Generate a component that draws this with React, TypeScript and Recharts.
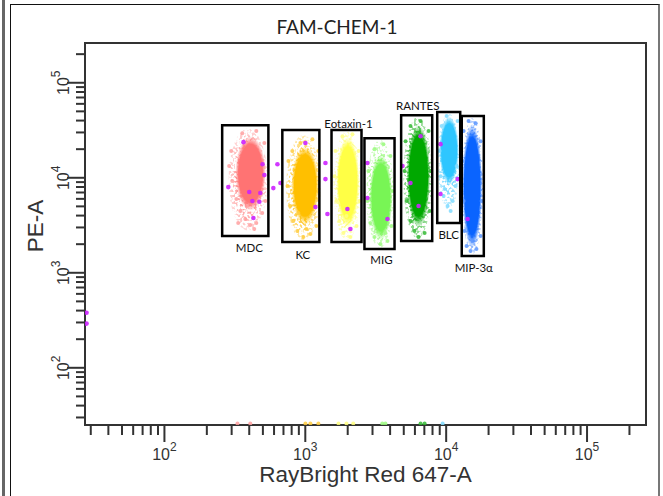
import { ScatterChart, Scatter, XAxis, YAxis, ReferenceArea } from "recharts";

// flow plot: PE-A vs RayBright Red 647-A, log-log
const X_MIN = 27.3;
const Y_MIN = 25;
const AXIS_MAX = 262144;

const decadeTicks = [100, 1000, 10000, 100000];
const decadeExponents = ["2", "3", "4", "5"];
const minorTicks = [
  30, 40, 50, 60, 70, 80, 90,
  200, 300, 400, 500, 600, 700, 800, 900,
  2000, 3000, 4000, 5000, 6000, 7000, 8000, 9000,
  20000, 30000, 40000, 50000, 60000, 70000, 80000, 90000,
  200000,
];
const allTicks = [...minorTicks, ...decadeTicks].sort((a, b) => a - b);

const populations = ["MDC", "KC", "Eotaxin-1", "MIG", "RANTES", "BLC", "MIP-3α"];

// gates: [x1, x2, y1, y2]
const gates = [
  [257, 547, 2440, 35800],
  [687, 1259, 2110, 31800],
  [1535, 2506, 2110, 31800],
  [2630, 4300, 1780, 26100],
  [4790, 7960, 2160, 45600],
  [8640, 12580, 3340, 49100],
  [12900, 18500, 1500, 44600],
];

// extent of the diffuse cloud and of the dense core of each bead population
const clouds = [
  [285, 540, 2800, 33000],
  [730, 1285, 2200, 28000],
  [1580, 2470, 2200, 31000],
  [2710, 4250, 1830, 25000],
  [4970, 7900, 2300, 43500],
  [8700, 12500, 4600, 47500],
  [12900, 18300, 1580, 42500],
];
const cores = [
  [318, 525, 4500, 27500],
  [795, 1250, 3200, 21500],
  [1660, 2420, 3000, 27000],
  [2850, 4150, 2200, 17500],
  [5250, 7700, 3000, 36000],
  [8950, 12300, 8500, 44500],
  [13000, 18000, 1800, 37000],
];

const fringeMDC = [
  { x: 298, y: 19100 }, { x: 288, y: 13300 }, { x: 303, y: 9230 }, { x: 324, y: 5970 },
  { x: 346, y: 4470 }, { x: 375, y: 3680 }, { x: 407, y: 3180 }, { x: 449, y: 3340 },
  { x: 495, y: 4260 }, { x: 520, y: 5690 }, { x: 357, y: 29500 }, { x: 449, y: 31000 },
  { x: 512, y: 23200 }, { x: 334, y: 3340 }, { x: 434, y: 2890 }, { x: 387, y: 5040 },
  { x: 330, y: 26 }, { x: 407, y: 26 },
];
const fringeKC = [
  { x: 759, y: 15000 }, { x: 747, y: 8180 }, { x: 783, y: 5040 }, { x: 822, y: 3510 },
  { x: 878, y: 2750 }, { x: 969, y: 2380 }, { x: 1087, y: 2560 }, { x: 1199, y: 3100 },
  { x: 1238, y: 19100 }, { x: 1123, y: 25500 }, { x: 923, y: 23200 }, { x: 809, y: 19100 },
  { x: 1018, y: 2890 }, { x: 893, y: 4260 },
  { x: 1002, y: 26 }, { x: 1087, y: 26 }, { x: 1238, y: 26 },
];
const fringeEotaxin = [
  { x: 1637, y: 19100 }, { x: 1610, y: 10400 }, { x: 1664, y: 5690 }, { x: 1748, y: 3510 },
  { x: 1866, y: 2620 }, { x: 2090, y: 2380 }, { x: 2310, y: 3100 }, { x: 2423, y: 5690 },
  { x: 2385, y: 19100 }, { x: 2160, y: 28800 }, { x: 1836, y: 27400 }, { x: 1960, y: 3960 },
  { x: 1720, y: 26 }, { x: 1960, y: 26 }, { x: 2190, y: 26 },
];
const fringeMIG = [
  { x: 2806, y: 11800 }, { x: 2760, y: 5690 }, { x: 2900, y: 3340 }, { x: 3095, y: 2380 },
  { x: 3415, y: 2010 }, { x: 3830, y: 2160 }, { x: 4090, y: 3100 }, { x: 4155, y: 7240 },
  { x: 4020, y: 16900 }, { x: 3586, y: 22600 }, { x: 3095, y: 20000 }, { x: 3705, y: 2620 },
  { x: 3520, y: 26 }, { x: 3705, y: 26 },
];
const fringeRANTES = [
  { x: 5150, y: 24300 }, { x: 5070, y: 11800 }, { x: 5230, y: 5690 }, { x: 5580, y: 3510 },
  { x: 5960, y: 2750 }, { x: 6370, y: 2380 }, { x: 7030, y: 2620 }, { x: 7630, y: 4470 },
  { x: 7750, y: 11800 }, { x: 7500, y: 31000 }, { x: 6580, y: 39500 }, { x: 5580, y: 35000 },
  { x: 6580, y: 26 }, { x: 7030, y: 26 },
];
const fringeBLC = [
  { x: 8990, y: 19100 }, { x: 9140, y: 10400 }, { x: 9590, y: 6420 }, { x: 10230, y: 5040 },
  { x: 11110, y: 5690 }, { x: 11670, y: 8180 }, { x: 10760, y: 4470 }, { x: 9290, y: 35000 },
  { x: 12050, y: 39500 }, { x: 10070, y: 44600 }, { x: 11860, y: 13300 }, { x: 9750, y: 7600 },
  { x: 9440, y: 26 },
];
const fringeMIP = [
  { x: 13300, y: 31000 }, { x: 13100, y: 15000 }, { x: 13300, y: 5690 }, { x: 13500, y: 2750 },
  { x: 13960, y: 1910 }, { x: 14900, y: 1700 }, { x: 16400, y: 1780 }, { x: 17550, y: 2440 },
  { x: 17850, y: 5690 }, { x: 17550, y: 24300 }, { x: 16200, y: 37600 }, { x: 14420, y: 39500 },
  { x: 15400, y: 2160 },
];
const fringes = [fringeMDC, fringeKC, fringeEotaxin, fringeMIG, fringeRANTES, fringeBLC, fringeMIP];

// doublets / ungated events
const magentaEvents = [
  { x: 364, y: 23700 }, { x: 497, y: 13900 }, { x: 512, y: 10700 }, { x: 284, y: 7980 },
  { x: 400, y: 7080 }, { x: 479, y: 6910 }, { x: 421, y: 5690 }, { x: 472, y: 5600 },
  { x: 428, y: 3770 }, { x: 634, y: 13900 }, { x: 666, y: 8800 }, { x: 593, y: 7790 },
  { x: 1002, y: 23200 }, { x: 1180, y: 4920 }, { x: 1390, y: 14300 }, { x: 1390, y: 9690 },
  { x: 1436, y: 4150 }, { x: 1990, y: 4690 }, { x: 2090, y: 2890 }, { x: 2760, y: 14300 },
  { x: 2760, y: 6120 }, { x: 3830, y: 3680 }, { x: 4900, y: 13300 }, { x: 6580, y: 27400 },
  { x: 5580, y: 8800 }, { x: 6370, y: 5040 }, { x: 9120, y: 22600 }, { x: 9120, y: 6750 },
  { x: 12050, y: 9690 }, { x: 14200, y: 3680 },
  { x: 28, y: 380 }, { x: 28, y: 292 },
];

// styles
const coreColors = ["#ff7373", "#ffbf00", "#ffff45", "#78f555", "#00a800", "#2ec6ff", "#0a64ff"];
const lightColors = ["#ffa0a0", "#ffcc40", "#ffff80", "#9cfa80", "#33b833", "#80dbff", "#5c96ff"];
const labelBelow = [true, true, false, true, false, true, true];
const labelBaseline = [16, 17, -2, 15, -5, 16, 16];
const labelShift = [4, 2, 2, 2, 1, 0, 1];

const AXIS = "#333";
const TICK_FONT = "'Liberation Sans', Arial, sans-serif";
const LABEL_FONT = "Lato, 'Open Sans', sans-serif";

function XTick(props: any) {
  const { x, y, payload } = props;
  const i = decadeTicks.indexOf(payload.value);
  const major = i >= 0;
  return (
    <g>
      <line x1={x} x2={x} y1={y} y2={y + (major ? 17 : 10)} stroke={AXIS} strokeWidth={2} />
      {major && (
        <text x={x} y={y + 35} textAnchor="middle" fontFamily={TICK_FONT} fontSize={16} fill={AXIS}>
          10
          <tspan dy={-9} fontSize={12}>{decadeExponents[i]}</tspan>
        </text>
      )}
    </g>
  );
}

function YTick(props: any) {
  const { x, y, payload } = props;
  const i = decadeTicks.indexOf(payload.value);
  const major = i >= 0;
  const tx = x - 16;
  return (
    <g>
      <line x1={x} x2={x - (major ? 18 : 9)} y1={y} y2={y} stroke={AXIS} strokeWidth={2} />
      {major && (
        <text
          x={tx}
          y={y}
          transform={`rotate(-90 ${tx} ${y})`}
          textAnchor="middle"
          fontFamily={TICK_FONT}
          fontSize={16}
          fill={AXIS}
        >
          10
          <tspan dy={-9} fontSize={12}>{decadeExponents[i]}</tspan>
        </text>
      )}
    </g>
  );
}

// dense bead cloud: a gradient ellipse; the diffuse halo is speckled so it reads as single events
function Blob(props: any) {
  const { x, y, width, height, color, id, soft, seed } = props;
  const gid = `blob-${id}`;
  const fid = `speck-${id}`;
  return (
    <g>
      <defs>
        <radialGradient id={gid}>
          <stop offset="0%" stopColor={color} stopOpacity={1} />
          <stop offset={soft ? "60%" : "78%"} stopColor={color} stopOpacity={1} />
          <stop offset="100%" stopColor={color} stopOpacity={soft ? 0.4 : 0} />
        </radialGradient>
        {soft && (
          <filter id={fid} x="-5%" y="-5%" width="110%" height="110%">
            <feTurbulence type="fractalNoise" baseFrequency="0.42" numOctaves={1} seed={seed} result="noise" />
            <feColorMatrix
              in="noise"
              type="matrix"
              values="0 0 0 0 0  0 0 0 0 0  0 0 0 0 0  8 0 0 0 -3.9"
              result="mask"
            />
            <feComposite in="SourceGraphic" in2="mask" operator="in" />
          </filter>
        )}
      </defs>
      <ellipse
        cx={x + width / 2}
        cy={y + height / 2}
        rx={width / 2}
        ry={height / 2}
        fill={`url(#${gid})`}
        filter={soft ? `url(#${fid})` : undefined}
      />
    </g>
  );
}

const gateLabel = (i: number) => (p: any) => {
  const { x, y, width, height } = p.viewBox;
  const ty = labelBelow[i] ? y + height + labelBaseline[i] : y + labelBaseline[i];
  return (
    <text x={x + width / 2 + labelShift[i]} y={ty} textAnchor="middle" fontFamily={LABEL_FONT} fontSize={11.5} fill="#111">
      {populations[i]}
    </text>
  );
};

const dot = (color: string, r: number, opacity: number) => (p: any) =>
  <circle cx={p.cx} cy={p.cy} r={r} fill={color} fillOpacity={opacity} />;

export default function App() {
  return (
    <div style={{ position: "absolute", left: 0, top: 0, width: 663, height: 496, overflow: "hidden", background: "#fff" }}>
      <div style={{ position: "absolute", left: 2, top: 0, width: 2.5, height: 496, background: "#666" }} />
      <div
        style={{
          position: "absolute", left: 10, top: 4, width: 650, height: 520, boxSizing: "border-box",
          borderTop: "1.5px solid #111", borderLeft: "1.5px solid #111", borderRight: "2px solid #777",
        }}
      />
      <svg width={663} height={60} style={{ position: "absolute", left: 0, top: 0 }}>
        <text x={337} y={34} textAnchor="middle" fontFamily={LABEL_FONT} fontSize={19} fill="#222">FAM-CHEM-1</text>
      </svg>
      <ScatterChart
        width={663}
        height={496}
        margin={{ top: 43, right: 17, bottom: 0, left: 0 }}
        style={{ position: "absolute", left: 0, top: 0 }}
      >
        <XAxis
          type="number"
          dataKey="x"
          scale="log"
          domain={[X_MIN, AXIS_MAX]}
          allowDataOverflow
          ticks={allTicks}
          interval={0}
          tick={<XTick />}
          tickLine={false}
          tickSize={0}
          tickMargin={0}
          axisLine={{ stroke: AXIS, strokeWidth: 2 }}
          height={71}
          label={{
            content: (p: any) => (
              <text x={p.viewBox.x + p.viewBox.width / 2} y={482} textAnchor="middle" fontFamily={TICK_FONT} fontSize={22.5} fill={AXIS}>
                RayBright Red 647-A
              </text>
            ),
          }}
        />
        <YAxis
          type="number"
          dataKey="y"
          scale="log"
          domain={[Y_MIN, AXIS_MAX]}
          allowDataOverflow
          ticks={allTicks}
          interval={0}
          tick={<YTick />}
          tickLine={false}
          tickSize={0}
          tickMargin={0}
          axisLine={{ stroke: AXIS, strokeWidth: 2 }}
          width={85}
          label={{
            content: () => (
              <text x={43} y={226} transform="rotate(-90 43 226)" textAnchor="middle" fontFamily={TICK_FONT} fontSize={22.5} fill={AXIS}>
                PE-A
              </text>
            ),
          }}
        />
        <ReferenceArea x1={X_MIN} x2={AXIS_MAX} y1={Y_MIN} y2={AXIS_MAX} fill="none" stroke={AXIS} strokeWidth={2} />
        {clouds.map((c, i) => (
          <ReferenceArea
            key={`cloud-${i}`}
            x1={c[0]} x2={c[1]} y1={c[2]} y2={c[3]}
            shape={(p: any) => <Blob {...p} color={lightColors[i]} id={`c${i}`} seed={i * 5 + 3} soft />}
          />
        ))}
        {cores.map((c, i) => (
          <ReferenceArea
            key={`core-${i}`}
            x1={c[0]} x2={c[1]} y1={c[2]} y2={c[3]}
            shape={(p: any) => <Blob {...p} color={coreColors[i]} id={`k${i}`} />}
          />
        ))}
        {fringes.map((f, i) => (
          <Scatter key={`fr-${i}`} data={f} isAnimationActive={false} shape={dot(lightColors[i], 2, 0.85)} />
        ))}
        <Scatter data={magentaEvents} isAnimationActive={false} shape={dot("#cc22ff", 2.3, 0.9)} />
        {gates.map((g, i) => (
          <ReferenceArea
            key={`gate-${i}`}
            x1={g[0]} x2={g[1]} y1={g[2]} y2={g[3]}
            fill="none"
            stroke="#000"
            strokeWidth={2.5}
            fillOpacity={0}
            label={{ content: gateLabel(i) }}
            {...({ zIndex: 1000 } as any)}
          />
        ))}
      </ScatterChart>
    </div>
  );
}
